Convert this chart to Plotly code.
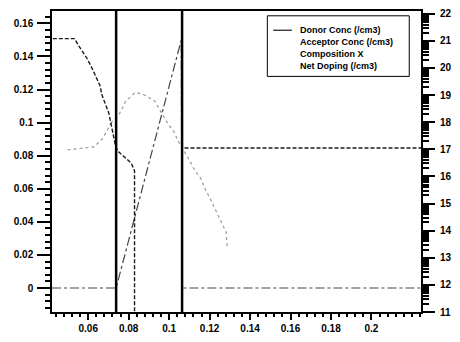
import plotly.graph_objects as go
import numpy as np

# ---- data ----
# Region boundaries (position, um)
boundaries = [0.0738, 0.1064]

# Donor concentration (log10 /cm3), right axis
donor_x = [0.0425, 0.0532, 0.0552, 0.0595, 0.0619, 0.0658, 0.0668, 0.0687, 0.0702,
           0.0736, 0.0750, 0.0813, 0.0829, 0.0829, 0.1064, 0.1064, 0.2245]
donor_y = [21.08, 21.08, 20.83, 20.34, 19.99, 19.35, 19.00, 18.61, 18.33,
           17.09, 16.91, 16.49, 16.20, 10.5, 10.5, 17.05, 17.05]

# Acceptor concentration (log10 /cm3), right axis
acc_x = [0.0711, 0.0750, 0.0784, 0.0832, 0.0871, 0.0929, 0.0958, 0.0992, 0.1026,
         0.1040, 0.1103, 0.1128, 0.1157, 0.1176, 0.1210, 0.1234, 0.1282, 0.1287]
acc_y = [17.97, 18.25, 18.75, 19.10, 19.03, 18.78, 18.40, 17.97, 17.62,
         17.37, 16.56, 16.20, 15.92, 15.57, 15.07, 14.69, 13.94, 13.41]

# Composition X (left axis)
comp_x = [0.0421, 0.0738, 0.1060, 0.1064, 0.2245]
comp_y = [0.0, 0.0, 0.150, 0.0, 0.0]

# Net doping (log10 /cm3), right axis
net_x = [0.0498, 0.0556, 0.0629, 0.0668, 0.0702, 0.0711]
net_y = [16.98, 17.02, 17.09, 17.37, 17.80, 17.97]

x_ticks = [0.06, 0.08, 0.10, 0.12, 0.14, 0.16, 0.18, 0.20]
x_labels = ["0.06", "0.08", "0.1", "0.12", "0.14", "0.16", "0.18", "0.2"]
yl_ticks = [0, 0.02, 0.04, 0.06, 0.08, 0.10, 0.12, 0.14, 0.16]
yl_labels = ["0", "0.02", "0.04", "0.06", "0.08", "0.1", "0.12", "0.14", "0.16"]
yr_ticks = list(range(11, 23))
yr_labels = [str(v) for v in yr_ticks]

legend_names = ["Donor Conc (/cm3)", "Acceptor Conc (/cm3)", "Composition X", "Net Doping (/cm3)"]

# ---- figure ----
fig = go.Figure()
fig.add_trace(go.Scatter(x=net_x, y=net_y, yaxis="y2", mode="lines",
                         line=dict(color="#9a9a9a", width=1.2, dash="dot"),
                         name=legend_names[3], showlegend=False))
fig.add_trace(go.Scatter(x=acc_x, y=acc_y, yaxis="y2", mode="lines",
                         line=dict(color="#9a9a9a", width=1.2, dash="dot"),
                         name=legend_names[1], showlegend=False))
fig.add_trace(go.Scatter(x=comp_x, y=comp_y, yaxis="y", mode="lines",
                         line=dict(color="#444444", width=1.2, dash="dashdot"),
                         name=legend_names[2], showlegend=False))
fig.add_trace(go.Scatter(x=donor_x, y=donor_y, yaxis="y2", mode="lines",
                         line=dict(color="#1a1a1a", width=1.4, dash="4px,2px"),
                         name=legend_names[0], showlegend=False))

for b in boundaries:
    fig.add_shape(type="line", xref="x", yref="paper", x0=b, x1=b, y0=0, y1=1,
                  line=dict(color="black", width=2.5))

tickfont = dict(family="Liberation Sans", size=10, color="black", weight="bold")

fig.update_layout(
    width=460, height=342,
    margin=dict(l=52, r=31, t=8, b=21),
    paper_bgcolor="white", plot_bgcolor="white",
    xaxis=dict(range=[0.0421, 0.2245], tickmode="array", tickvals=x_ticks, ticktext=x_labels,
               ticks="outside", ticklen=6, tickwidth=1.5, tickcolor="black",
               showline=True, linewidth=2, linecolor="black", mirror=True,
               showgrid=False, zeroline=False, tickfont=tickfont,
               minor=dict(ticks="outside", ticklen=3, dtick=0.004, tick0=0, tickcolor="black",
                          showgrid=False)),
    yaxis=dict(range=[-0.0145, 0.1675], tickmode="array", tickvals=yl_ticks, ticktext=yl_labels,
               ticks="outside", ticklen=13, tickwidth=1.5, tickcolor="black",
               showline=True, linewidth=1.5, linecolor="black",
               showgrid=False, zeroline=False, tickfont=tickfont, ticklabelstandoff=2,
               minor=dict(ticks="outside", ticklen=5, dtick=0.004, tick0=0, tickcolor="black",
                          showgrid=False)),
    yaxis2=dict(range=[11, 22.1], overlaying="y", side="right", tickmode="array",
                tickvals=yr_ticks, ticktext=yr_labels,
                ticks="outside", ticklen=12, tickwidth=1.5, tickcolor="black",
                showline=True, linewidth=2, linecolor="black",
                showgrid=False, zeroline=False, tickfont=tickfont, ticklabelstandoff=3,
                minor=dict(ticks="outside", ticklen=6, tickcolor="black", tickmode="array",
                           tickvals=[k + float(np.log10(m)) for k in range(11, 22) for m in range(2, 10)],
                           showgrid=False)),
    showlegend=False,
)

# manual legend box (paper coordinates derived from plot area)
def px2paper_x(px):
    return (px - 52) / 377.0

def px2paper_y(py):
    return (321 - py) / 313.0

fig.add_shape(type="rect", xref="paper", yref="paper",
              x0=px2paper_x(272), x1=px2paper_x(417), y0=px2paper_y(76), y1=px2paper_y(13),
              line=dict(color="black", width=1), fillcolor="white", layer="above")
fig.add_shape(type="line", xref="paper", yref="paper",
              x0=px2paper_x(278), x1=px2paper_x(297), y0=px2paper_y(28), y1=px2paper_y(28),
              line=dict(color="#1a1a1a", width=1.2))
rows = [28, 40.5, 53, 65]
for name, ry in zip(legend_names, rows):
    fig.add_annotation(x=px2paper_x(303), y=px2paper_y(ry), xref="paper", yref="paper",
                       text=name, showarrow=False, xanchor="left", yanchor="middle",
                       font=dict(family="Liberation Sans", size=9, color="black", weight="bold"))

fig.write_html("out.html")
